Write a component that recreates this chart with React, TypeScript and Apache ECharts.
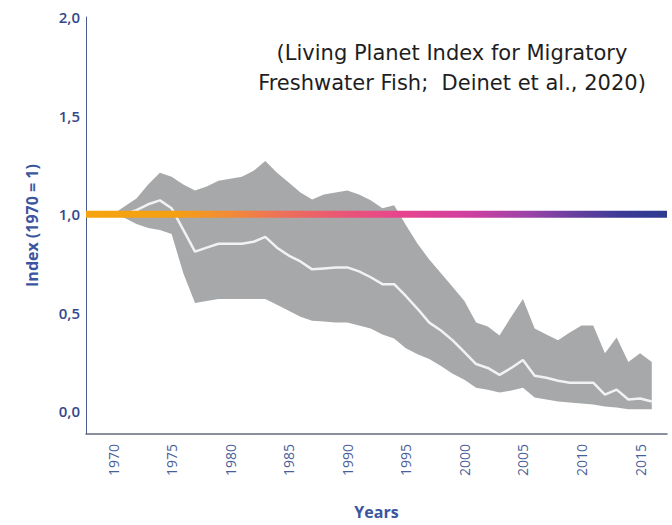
import React, { useEffect, useRef } from "react";
import * as echarts from "echarts";

const years = [
  1970, 1971, 1972, 1973, 1974, 1975, 1976, 1977, 1978, 1979,
  1980, 1981, 1982, 1983, 1984, 1985, 1986, 1987, 1988, 1989,
  1990, 1991, 1992, 1993, 1994, 1995, 1996, 1997, 1998, 1999,
  2000, 2001, 2002, 2003, 2004, 2005, 2006, 2007, 2008, 2009,
  2010, 2011, 2012, 2013, 2014, 2015, 2016,
];
const meanIndex = [
  1.0, 1.0, 1.02, 1.05, 1.07, 1.03, 0.92, 0.81, 0.83, 0.85,
  0.85, 0.85, 0.86, 0.885, 0.83, 0.79, 0.76, 0.72, 0.725, 0.73,
  0.73, 0.71, 0.68, 0.645, 0.645, 0.585, 0.52, 0.45, 0.41, 0.36,
  0.3, 0.24, 0.22, 0.185, 0.22, 0.26, 0.18, 0.17, 0.155, 0.145,
  0.145, 0.145, 0.085, 0.11, 0.06, 0.065, 0.05,
];
const upperCI = [
  1.0, 1.04, 1.08, 1.15, 1.21, 1.19, 1.15, 1.12, 1.14, 1.17,
  1.18, 1.19, 1.22, 1.27, 1.21, 1.16, 1.11, 1.075, 1.1, 1.11,
  1.12, 1.1, 1.07, 1.03, 1.045, 0.945, 0.85, 0.77, 0.7, 0.63,
  0.56, 0.45, 0.43, 0.385, 0.48, 0.57, 0.42, 0.39, 0.36, 0.4,
  0.435, 0.435, 0.295, 0.375, 0.25, 0.295, 0.25,
];
const lowerCI = [
  1.0, 0.98, 0.95, 0.93, 0.92, 0.9, 0.7, 0.55, 0.56, 0.57,
  0.57, 0.57, 0.57, 0.57, 0.54, 0.51, 0.48, 0.46, 0.455, 0.45,
  0.45, 0.435, 0.42, 0.39, 0.37, 0.32, 0.29, 0.265, 0.23, 0.19,
  0.16, 0.12, 0.11, 0.095, 0.105, 0.12, 0.07, 0.06, 0.05, 0.045,
  0.04, 0.035, 0.025, 0.02, 0.01, 0.01, 0.01,
];
const xTickYears = [1970, 1975, 1980, 1985, 1990, 1995, 2000, 2005, 2010, 2015];
const yTickValues = [0, 0.5, 1.0, 1.5, 2.0];
const baselineValue = 1;
const annotationLines = [
  "(Living Planet Index for Migratory",
  "Freshwater Fish;  Deinet et al., 2020)",
];

const X_MIN = 1967.69;
const X_MAX = 2017.3;
const Y_MIN = -0.115;
const Y_MAX = 2.0;

export default function App() {
  const ref = useRef<HTMLDivElement>(null);
  useEffect(() => {
    if (!ref.current) return;
    const chart = echarts.init(ref.current, null, { renderer: "svg" });
    const gridLeft = 86;
    const gridRight = 5;
    const x0 = gridLeft;
    const x1 = 672 - gridRight;
    const gradient = new echarts.graphic.LinearGradient(
      x0, 0, x1, 0,
      [
        { offset: 0, color: "#f5a30f" },
        { offset: 0.15, color: "#f5a012" },
        { offset: 0.25, color: "#f28a38" },
        { offset: 0.33, color: "#ee7256" },
        { offset: 0.45, color: "#e95478" },
        { offset: 0.54, color: "#e8448e" },
        { offset: 0.66, color: "#cf3fa0" },
        { offset: 0.76, color: "#9c43a8" },
        { offset: 0.84, color: "#693f9f" },
        { offset: 0.92, color: "#3d3a96" },
        { offset: 1, color: "#2d3a8f" },
      ],
      true
    );
    const textStyleBase = {
      x: 0,
      y: 0,
      textAlign: "center",
      textVerticalAlign: "middle",
      fontSize: 21,
      fontFamily: "DejaVu Sans",
      fill: "#1e1e1e",
    };
    chart.setOption({
      animation: false,
      backgroundColor: "#ffffff",
      grid: { left: gridLeft, right: gridRight, top: 17, bottom: 85, containLabel: false },
      xAxis: {
        type: "value",
        min: X_MIN,
        max: X_MAX,
        name: "Years",
        nameLocation: "middle",
        nameGap: 70,
        nameTextStyle: { color: "#3b55a0", fontSize: 16, fontWeight: "bold", fontFamily: "Open Sans" },
        axisLine: { show: true, onZero: false, lineStyle: { color: "#656b7d", width: 1.5 } },
        axisTick: { show: false },
        splitLine: { show: false },
        axisLabel: {
          customValues: xTickYears,
          rotate: 90,
          margin: 10,
          color: "#4a5f9a",
          fontSize: 14,
          fontFamily: "Open Sans",
          formatter: (v: number) => String(Math.round(v)),
        },
      },
      yAxis: {
        type: "value",
        min: Y_MIN,
        max: Y_MAX,
        name: "Index (1970 = 1)",
        nameLocation: "middle",
        nameGap: 46,
        nameRotate: 90,
        nameTextStyle: { color: "#3b55a0", fontSize: 16, fontWeight: "bold", fontFamily: "Open Sans" },
        axisLine: { show: true, onZero: false, lineStyle: { color: "#4a5a8c", width: 1 } },
        axisTick: { show: false },
        splitLine: { show: false },
        axisLabel: {
          customValues: yTickValues,
          margin: 6,
          color: "#34498c",
          fontSize: 15,
          fontWeight: 600,
          fontFamily: "Open Sans",
          formatter: (v: number) => v.toFixed(1).replace(".", ","),
        },
      },
      series: [
        {
          type: "custom",
          silent: true,
          encode: { x: 0, y: [1, 2] },
          data: years.map((y, i) => [y, lowerCI[i], upperCI[i]]),
          renderItem: (params: any, api: any) => {
            if (params.dataIndex !== 0) return null;
            const pts: number[][] = [];
            for (let i = 0; i < years.length; i++) pts.push(api.coord([years[i], upperCI[i]]));
            for (let i = years.length - 1; i >= 0; i--) pts.push(api.coord([years[i], lowerCI[i]]));
            return {
              type: "polygon",
              shape: { points: pts },
              style: { fill: "#a7a8a9", stroke: "none" },
            };
          },
          z: 1,
        },
        {
          type: "line",
          symbol: "none",
          silent: true,
          lineStyle: { color: "#f2f2f2", width: 2.5 },
          data: years.map((y, i) => [y, meanIndex[i]]),
          z: 2,
        },
        {
          type: "line",
          symbol: "none",
          silent: true,
          lineStyle: { color: gradient, width: 7, cap: "butt" },
          data: [
            [X_MIN, baselineValue],
            [X_MAX, baselineValue],
          ],
          z: 3,
        },
      ],
      graphic: [
        { type: "text", x: 452, y: 53, style: { ...textStyleBase, text: annotationLines[0] } },
        { type: "text", x: 452, y: 83, style: { ...textStyleBase, text: annotationLines[1] } },
      ],
    });
    return () => chart.dispose();
  }, []);
  return (
    <div
      ref={ref}
      style={{ position: "fixed", left: 0, top: 0, width: 672, height: 525, background: "#fff" }}
    />
  );
}
